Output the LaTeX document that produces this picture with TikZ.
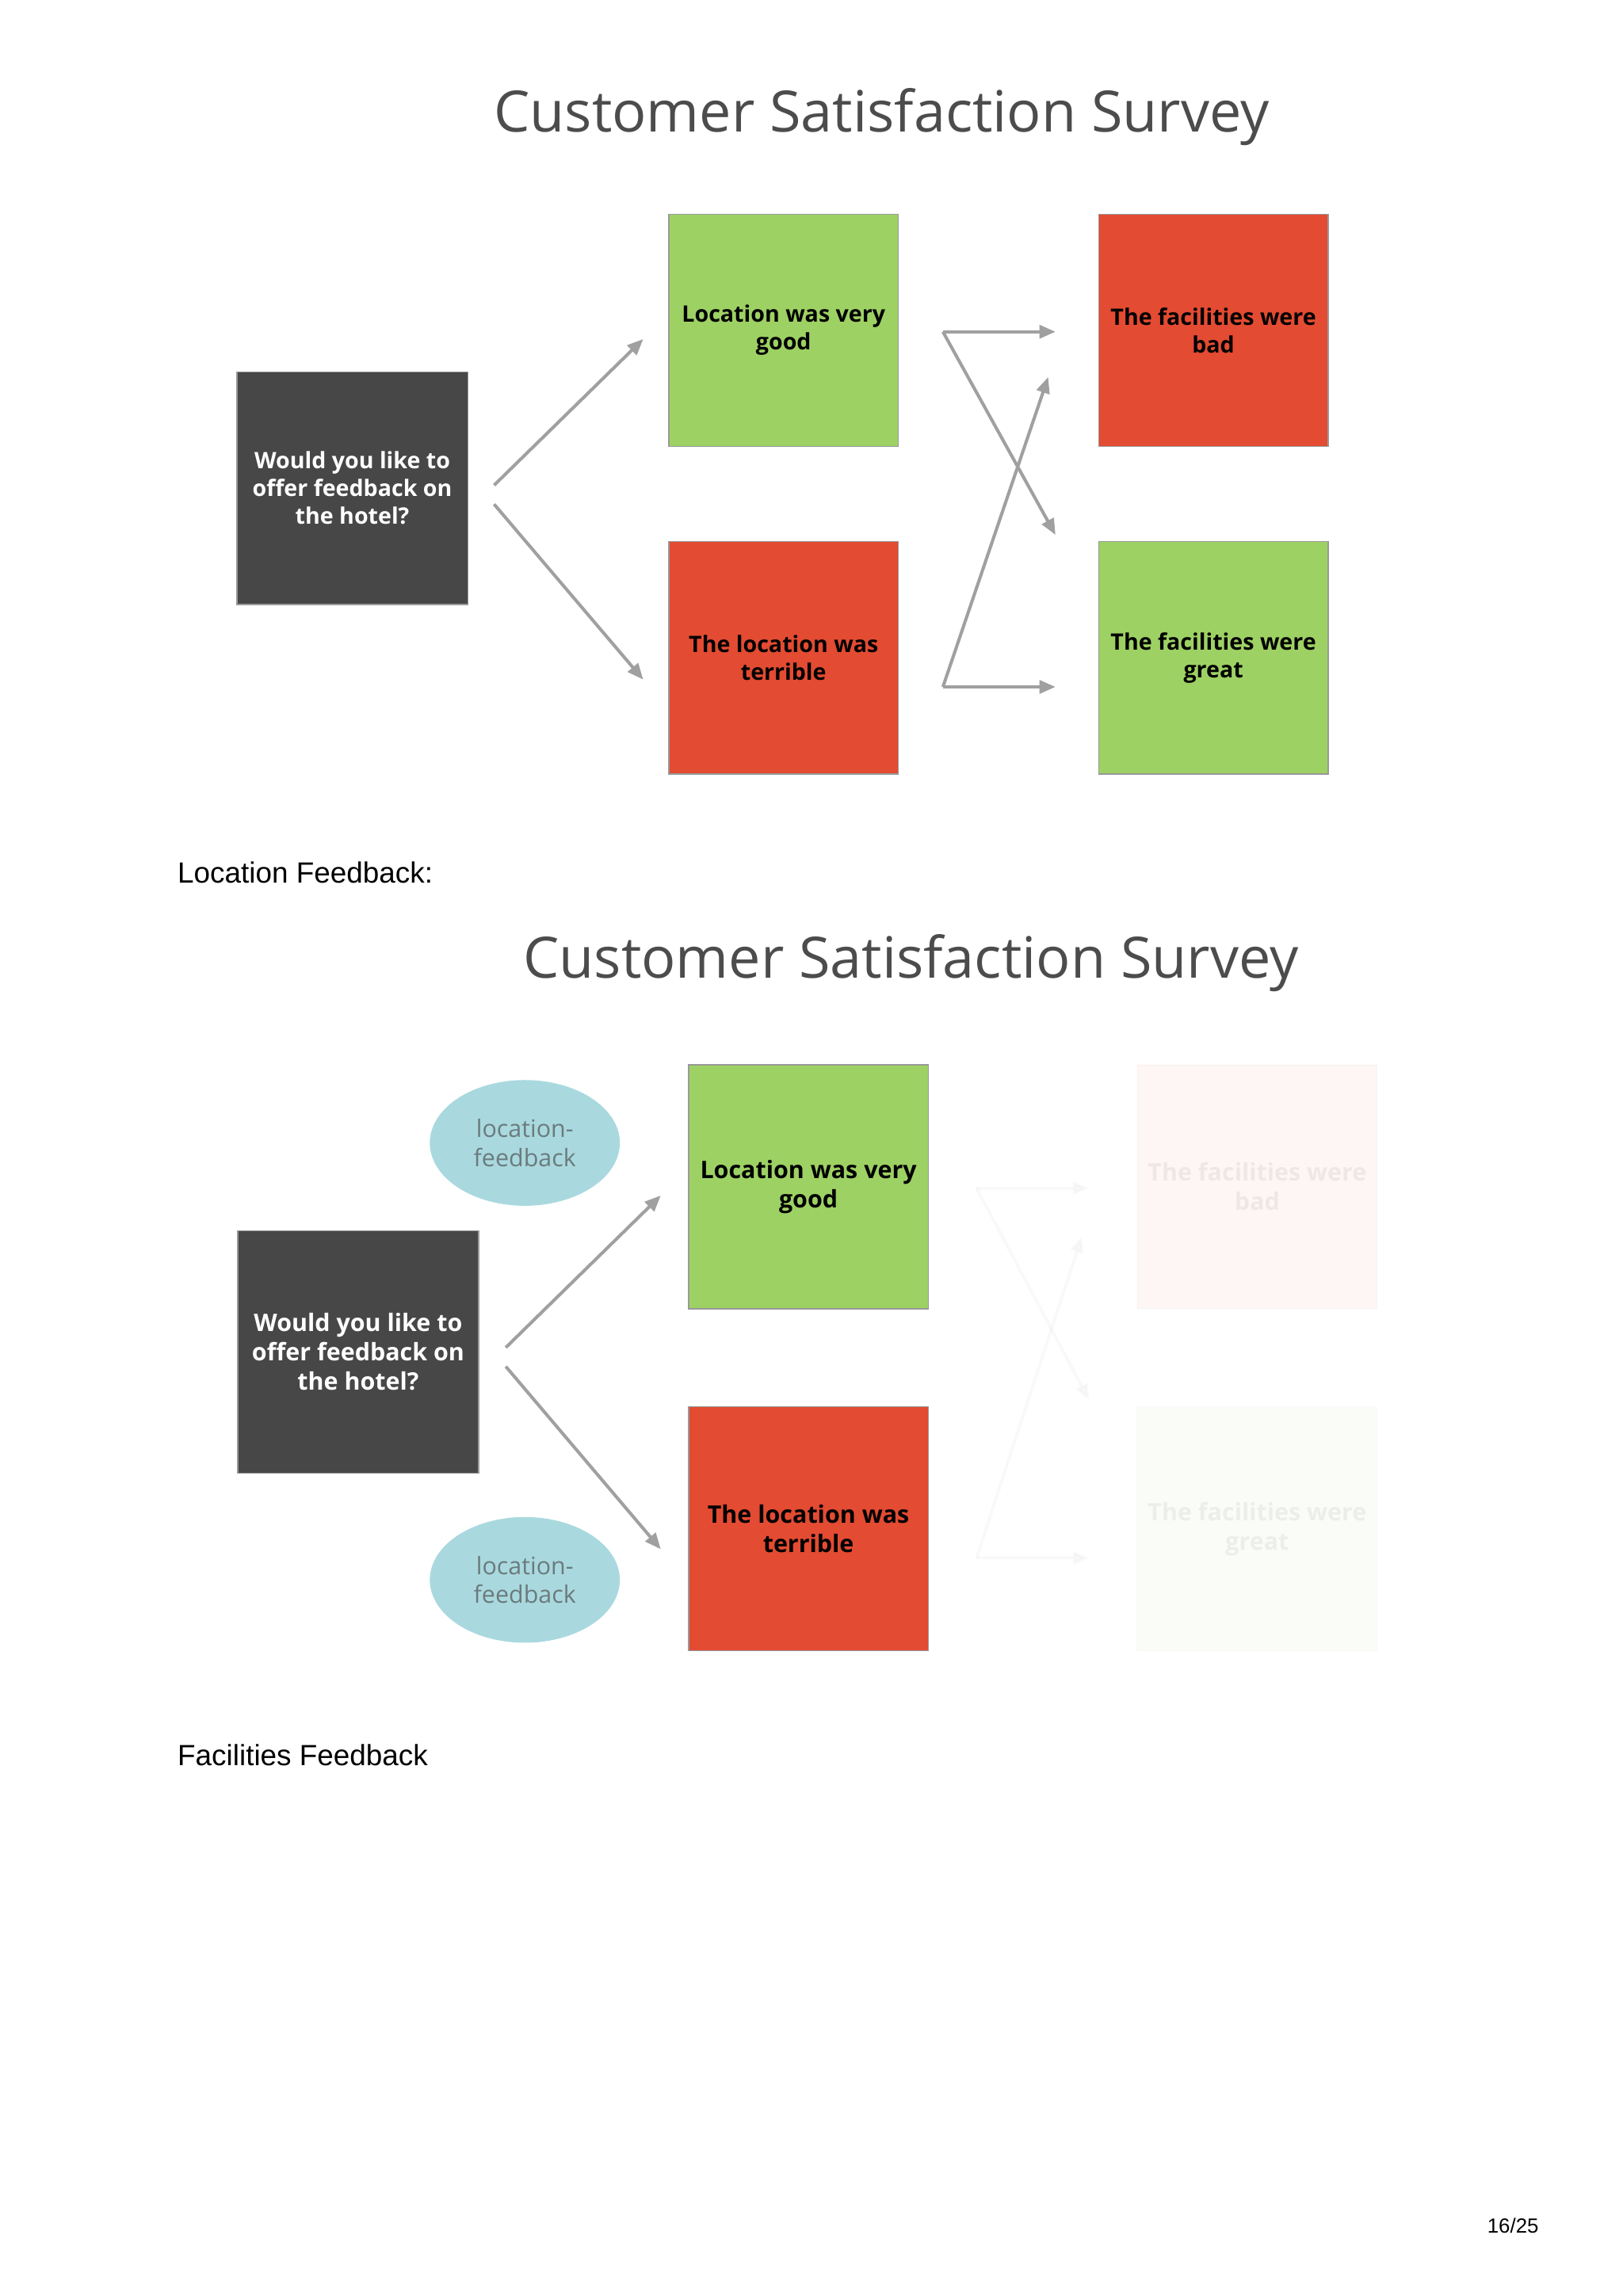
\documentclass[tikz,border=0pt]{standalone}
\usepackage{fontspec}
\setmainfont{Liberation Sans}
\newfontfamily\boxfont{Open Sans}
\usetikzlibrary{arrows.meta}
\definecolor{gbox}{HTML}{9ED163}
\definecolor{rbox}{HTML}{E34B32}
\definecolor{dbox}{HTML}{474747}
\definecolor{ell}{HTML}{A9D9DF}
\definecolor{arr}{HTML}{A0A0A0}
\tikzset{
 sq/.style={draw=black!40,line width=0.8pt,inner sep=4pt,align=center,font=\boxfont\bfseries\fontsize{15.5}{19}\selectfont},
 ttl/.style={font=\boxfont\fontsize{39}{44}\selectfont,text=black!70},
 ar/.style={draw=arr,line width=2.2pt,-{Triangle[length=11pt,width=9pt]}},
 far/.style={ar,draw opacity=0.06,fill opacity=0.06},
 lbl/.style={anchor=west,font=\fontsize{20}{24}\selectfont},
 ov/.style={ellipse,fill=ell,minimum width=130pt,minimum height=86pt,align=center,text=black!45!ell!60!gray,font=\boxfont\fontsize{16.5}{20}\selectfont}
}
\usetikzlibrary{shapes.geometric}
\begin{document}
\begin{tikzpicture}[x=1pt,y=-1pt]
\useasboundingbox (0,0) rectangle (1110,1571);
% top
\node[ttl] (t1) at (603,80) {Customer Satisfaction Survey};
\node[sq,fill=dbox,text=white,minimum width=158pt,minimum height=159pt] (q1) at (241,334) {Would you like to\\offer feedback on\\the hotel?};
\node[sq,fill=gbox,minimum width=157pt,minimum height=159pt] (g1) at (536,226) {Location was very\\good};
\node[sq,fill=rbox,minimum width=157pt,minimum height=159pt] (r1) at (536,450) {The location was\\terrible};
\node[sq,fill=rbox,minimum width=157pt,minimum height=159pt] (r2) at (830,226) {The facilities were\\bad};
\node[sq,fill=gbox,minimum width=157pt,minimum height=159pt] (g2) at (830,450) {The facilities were\\great};
\coordinate (a1) at (338,332); \coordinate (a1e) at (440,232);
\coordinate (a2) at (338,345); \coordinate (a2e) at (440,465);
\draw[ar] (a1) -- (a1e);
\draw[ar] (a2) -- (a2e);
\coordinate (p) at (645,227); \coordinate (q) at (645,470);
\draw[ar] (p) -- (722,227);
\draw[ar] (p) -- (722,366);
\draw[ar] (q) -- (722,470);
\draw[ar] (q) -- (717,258);
\node[lbl] (l1) at (118,597) {Location Feedback:};
% second
\node[ttl] (t2) at (623,659) {Customer Satisfaction Survey};
\node[sq,fill=dbox,text=white,minimum width=165pt,minimum height=166pt,font=\boxfont\bfseries\fontsize{16.5}{20}\selectfont] (q2) at (245,925) {Would you like to\\offer feedback on\\the hotel?};
\node[sq,fill=gbox,minimum width=164pt,minimum height=167pt,font=\boxfont\bfseries\fontsize{16.5}{20}\selectfont] (g3) at (553,812) {Location was very\\good};
\node[sq,fill=rbox,minimum width=164pt,minimum height=167pt,font=\boxfont\bfseries\fontsize{16.5}{20}\selectfont] (r3) at (553,1046) {The location was\\terrible};
\node[sq,draw opacity=0.03,fill=rbox,fill opacity=0.05,text opacity=0.06,minimum width=164pt,minimum height=167pt,font=\boxfont\bfseries\fontsize{16.5}{20}\selectfont] (r4) at (860,812) {The facilities were\\bad};
\node[sq,draw opacity=0.03,fill=gbox,fill opacity=0.05,text opacity=0.06,minimum width=164pt,minimum height=167pt,font=\boxfont\bfseries\fontsize{16.5}{20}\selectfont] (g4) at (860,1046) {The facilities were\\great};
\node[ov] (e1) at (359,782) {location-\\feedback};
\node[ov] (e2) at (359,1081) {location-\\feedback};
\draw[ar] (346,922) -- (452,818);
\draw[ar] (346,935) -- (452,1060);
\coordinate (p2) at (668,813); \coordinate (q2c) at (668,1066);
\draw[far] (p2) -- (745,813);
\draw[far] (p2) -- (745,958);
\draw[far] (q2c) -- (745,1066);
\draw[far] (q2c) -- (740,846);
\node[lbl] (l2) at (118,1201) {Facilities Feedback};
\node[font=\fontsize{14}{16}\selectfont,anchor=east] (pg) at (1056,1523) {16/25};
\end{tikzpicture}
\end{document}
